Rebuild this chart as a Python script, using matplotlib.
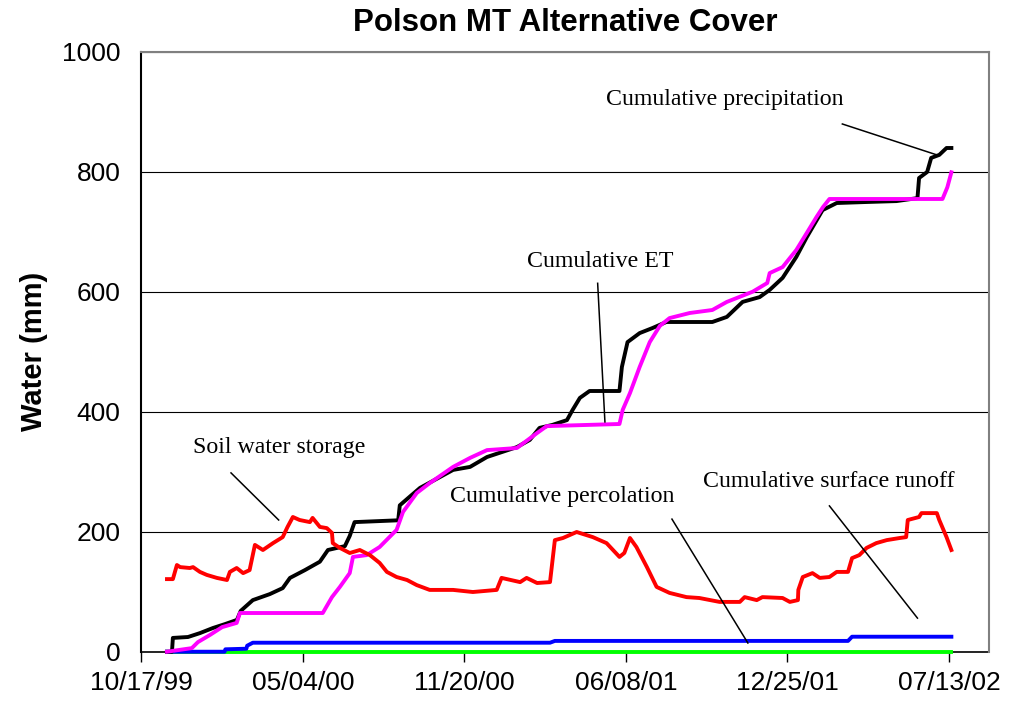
import numpy as np
import matplotlib
matplotlib.use("Agg")
import matplotlib.pyplot as plt
import matplotlib.dates as mdates

START = np.datetime64("1999-10-17")

# ---- data (days since 10/17/99, water in mm) ----
precip_days = [31.7, 37.9, 39, 57.7, 72.5, 88.6, 103.5, 118.3, 123, 138, 159, 175, 184, 202.5, 221, 231,
               252, 258, 264, 318, 320, 332, 345, 386, 407, 428, 447, 465, 481, 493, 509, 527, 534, 543,
               555, 592, 595, 602, 617, 633, 650, 707, 725, 744.5, 765.6, 778, 794, 811, 824, 843.5, 861,
               898, 935, 961, 963, 973, 978, 988, 997, 1003]
precip_mm = [0, 0, 23, 24.5, 31, 39.5, 46, 53, 68, 86, 96, 106, 123, 136, 150, 169.5,
             176, 193, 216, 219, 244, 258, 273, 303, 308, 324.5, 333, 341, 353, 373, 378, 386, 403, 423,
             434.5, 434.5, 474.5, 516, 531, 539.5, 549.5, 549.5, 558, 583, 591, 603, 623, 658, 691, 736, 747.8,
             749.5, 751, 756, 789.5, 799.5, 823, 828, 839.5, 839.5]

et_days = [31.7, 62.5, 70, 85, 100, 118, 122, 224.6, 236, 245.8, 258, 262, 279, 295, 316, 324, 341, 357,
           386, 407, 428, 465, 490, 502, 592, 596, 605, 617, 629.5, 642, 654, 679, 707, 725, 757, 775, 778,
           794, 811, 824, 836, 844, 852, 992, 998, 1003]
et_mm = [0, 6, 16, 28, 41, 48, 64.5, 64.5, 91, 108, 131, 158, 161, 174.5, 203, 233, 264.5, 281,
         308, 323, 336, 339.5, 364.5, 376, 379.5, 403, 431, 474.5, 516, 543, 556, 564.5, 569.5, 583, 600, 614.5, 631,
         641, 669.5, 698, 724.5, 741, 754.5, 754.5, 774, 799]

soil_days = [31.7, 39, 44, 48, 60, 64, 72.5, 81, 93.5, 106, 109.6, 118, 126, 134, 140.6, 150.5, 163, 175,
             181, 187.6, 196, 208.7, 212, 221, 229.6, 236, 237, 245.8, 258, 270.5, 283, 295, 304, 316, 329,
             341, 357, 386, 410.5, 440, 446, 469, 477, 490, 506, 512, 522, 539, 559, 576, 592, 598, 605,
             613, 626, 638, 654, 675, 691, 716, 741, 747, 762, 769, 794, 803, 813, 813.5, 819, 831, 840,
             852, 861, 875, 880, 889, 898, 910, 923, 939, 947, 949, 963, 966, 985, 988, 997, 1003]
soil_mm = [121, 121, 144.5, 141, 139.5, 141, 133, 128, 123, 119.5, 133, 139.5, 131, 136, 178, 169.5, 181, 191,
           208, 224.5, 219.5, 216, 223, 208, 206, 198, 181, 173, 164.5, 169.5, 161, 148, 133, 124.5, 119.5,
           111, 103, 103, 99.5, 103, 123, 116, 123, 114.5, 116, 186, 189.5, 199.5, 191, 181, 158, 164.5, 189.5,
           174.5, 141, 108, 98, 91, 89.5, 83, 83, 91, 86, 91, 89.5, 83, 86, 103, 124.5, 131, 123,
           124.5, 133, 133, 156, 161, 173, 181, 186, 189.5, 191, 219.5, 224.5, 231, 231, 219.5, 191, 169.5]

perc_days = [31.7, 103, 104, 130, 131, 138, 506, 512, 875, 880, 1003]
perc_mm = [0, 0, 4, 5, 10, 15, 15, 18, 18, 25, 25]

runoff_days = [31.7, 1003]
runoff_mm = [0, 0]

x_ticks_days = [0, 200, 400, 600, 800, 1000]
y_ticks = [0, 200, 400, 600, 800, 1000]


def to_dates(days):
    return (START + (np.array(days) * 24 * 3600).astype("timedelta64[s]")).astype("datetime64[s]").astype(object)


fig = plt.figure(figsize=(10.12, 7.09), dpi=100)
ax = fig.add_axes([0.1397, 0.0808, 0.9776 - 0.1397, 0.9271 - 0.0808])

lw = 2.8
ax.plot(to_dates(runoff_days), runoff_mm, color="#00FF00", lw=lw, zorder=3, clip_on=False)
ax.plot(to_dates(perc_days), perc_mm, color="#0000FF", lw=lw, zorder=4, clip_on=False)
ax.plot(to_dates(precip_days), precip_mm, color="black", lw=lw, zorder=5, clip_on=False)
ax.plot(to_dates(et_days), et_mm, color="#FF00FF", lw=lw, zorder=6, clip_on=False)
ax.plot(to_dates(soil_days), soil_mm, color="#FF0000", lw=lw, zorder=7)

ax.set_xlim(to_dates([0])[0], to_dates([1050])[0])
ax.set_ylim(0, 1000)
ax.set_xticks(to_dates(x_ticks_days))
ax.xaxis.set_major_formatter(mdates.DateFormatter("%m/%d/%y"))
ax.set_yticks(y_ticks)
ax.yaxis.grid(True, color="black", lw=0.8)
ax.set_axisbelow(True)

for lab in ax.get_xticklabels() + ax.get_yticklabels():
    lab.set_family("Liberation Sans")
    lab.set_fontsize(19)
ax.tick_params(axis="x", length=7, width=1, direction="out", pad=7)
ax.tick_params(axis="y", length=0, pad=15)

ax.spines["left"].set_color("black")
ax.spines["left"].set_linewidth(1.5)
ax.spines["bottom"].set_color("black")
ax.spines["bottom"].set_linewidth(1.2)
ax.spines["bottom"].set_zorder(2)
ax.spines["top"].set_color("#808080")
ax.spines["top"].set_linewidth(1.5)
ax.spines["right"].set_color("#808080")
ax.spines["right"].set_linewidth(1.5)

ax.set_title("Polson MT Alternative Cover", family="Liberation Sans", fontweight="bold",
             fontsize=22.5, pad=15)
ax.set_ylabel("Water (mm)", family="Liberation Sans", fontweight="bold", fontsize=21, labelpad=10)

tfont = dict(family="Liberation Serif", fontsize=17.2, va="center", ha="left")
ann = [
    ("Cumulative precipitation", 575, 919.5, 868, 879.5, 985, 828),
    ("Cumulative ET", 477, 649.5, 565, 614, 574, 383),
    ("Soil water storage", 64, 341, 111, 298, 170, 219.5),
    ("Cumulative percolation", 382, 259.5, 657, 221, 751, 14.5),
    ("Cumulative surface runoff", 696, 283, 852, 243, 961, 56),
]
for txt, tx, ty, x1, y1, x2, y2 in ann:
    ax.text(to_dates([tx])[0], ty, txt, zorder=8, **tfont)
    ax.plot(to_dates([x1, x2]), [y1, y2], color="black", lw=1.1, zorder=8)

fig.savefig("out.png", dpi=100)
